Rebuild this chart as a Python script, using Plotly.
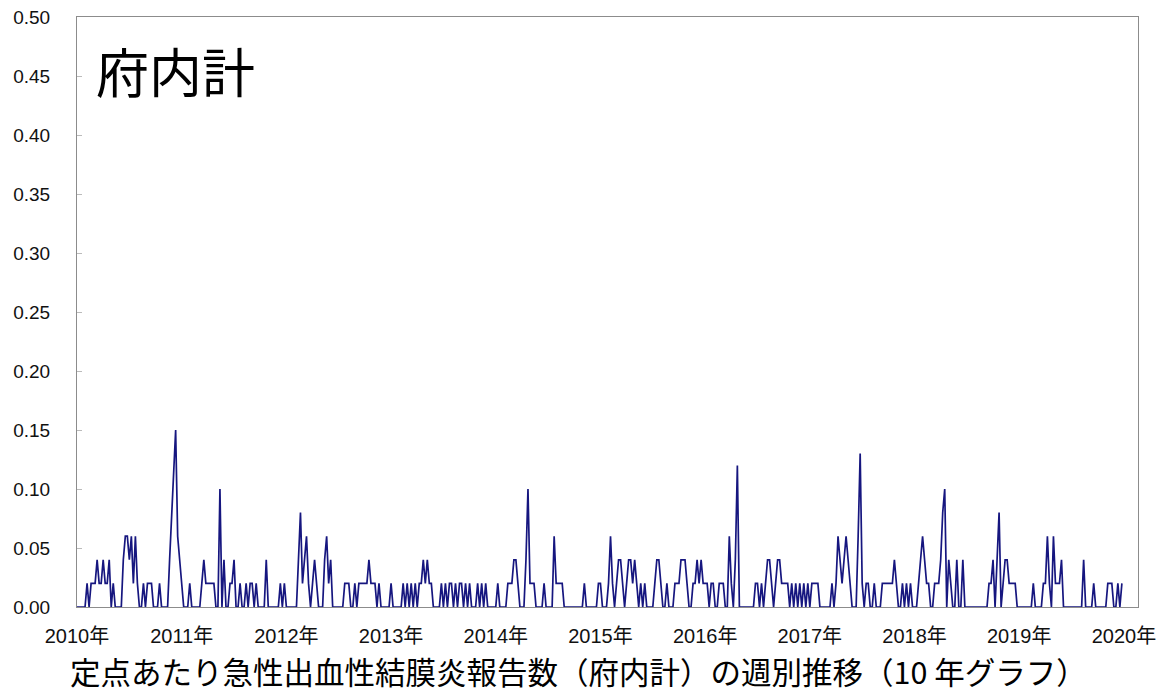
import numpy as np
import plotly.graph_objects as go

# Weekly values per sentinel (52 weeks per year)
y2010 = [0,0,0,0,0,.02,0,.02,.02,.02,.04,.02,.02,.04,.02,.02,.04,0,.02,0,
         0,0,0,.04,.06,.06,.04,.06,.02,.06,.02,0,0,.02,0,.02,.02,.02,0,0,
         0,.02,0,0,0,0,.04,.08,.12,.15,.06,.04]
y2011 = [.02,0,0,0,.02,0,0,0,0,0,.02,.04,.02,.02,.02,.02,.02,0,0,.10,
         0,.04,0,0,.02,.02,.04,0,0,.02,0,0,.02,0,.02,.02,0,.02,0,0,
         0,0,.04,0,0,0,0,0,0,.02,0,.02]
y2012 = [0,0,0,0,0,0,.04,.08,.02,.04,.06,.02,0,.02,.04,.02,0,0,0,.04,
         .06,.02,.04,0,0,0,0,0,0,.02,.02,.02,0,0,.02,0,.02,.02,.02,.02,
         .02,.04,.02,.02,.02,0,.02,0,0,0,0,0]
y2013 = [.02,0,0,0,0,0,.02,0,.02,0,.02,0,.02,0,.02,.02,.04,.02,.04,.02,
         .02,0,0,0,0,.02,0,.02,0,.02,.02,0,.02,0,.02,.02,0,.02,0,.02,
         0,0,0,.02,0,.02,0,.02,0,0,0,0]
y2014 = [0,.02,0,0,0,0,.02,.02,.02,.04,.04,.02,0,0,0,.04,.10,.02,.02,.02,
         0,0,0,0,.02,0,0,0,0,.06,.02,.02,.02,.02,0,0,0,0,0,0,
         0,0,0,0,.02,0,0,0,0,0,0,.02]
y2015 = [.02,0,0,0,.02,.06,.02,0,.02,.04,.04,.02,0,.02,.04,.04,.02,.04,.02,0,
         .02,0,.02,0,0,0,0,.02,.04,.04,.02,0,0,.02,0,0,0,.02,.02,.02,
         .04,.04,.04,.02,0,0,.02,.02,.04,.02,.04,.02]
y2016 = [.02,.02,0,.02,.02,0,0,.02,.02,.02,0,0,.06,.02,0,.04,.12,0,0,0,
         0,0,0,0,0,.02,.02,0,.02,0,.02,.04,.04,.02,0,.02,.04,.04,.02,.02,
         .02,.02,0,.02,0,.02,0,.02,0,.02,0,.02]
y2017 = [0,.02,.02,.02,.02,0,0,0,0,0,0,.02,0,.02,.06,.04,.02,.04,.06,.04,
         .02,0,0,0,.06,.13,.02,0,.02,.02,0,0,.02,0,0,0,.02,.02,.02,.02,
         .02,.02,.04,.02,0,0,.02,0,.02,0,.02,0]
y2018 = [0,0,.02,.04,.06,.04,.02,.02,0,0,.02,.02,.02,.04,.08,.10,0,.04,.02,0,
         0,.04,0,0,.04,0,0,0,0,0,0,0,0,0,0,0,0,.02,.02,.04,
         0,.04,.08,0,.02,.04,.04,.02,.02,.02,.02,0]
y2019 = [0,0,0,0,0,0,0,.02,0,0,0,0,.02,.02,.06,.02,0,.06,.02,.02,
         .02,.04,0,0,0,0,0,0,0,0,0,0,.04,0,0,0,0,.02,0,0,
         0,0,0,0,.02,.02,.02,0,0,.02,0,.02]

years = ["2010年", "2011年", "2012年", "2013年", "2014年", "2015年",
         "2016年", "2017年", "2018年", "2019年", "2020年"]
y_ticks = [0.00, 0.05, 0.10, 0.15, 0.20, 0.25, 0.30, 0.35, 0.40, 0.45, 0.50]

panel_title = "府内計"
caption = "定点あたり急性出血性結膜炎報告数（府内計）の週別推移（10 年グラフ）"

values = y2010 + y2011 + y2012 + y2013 + y2014 + y2015 + y2016 + y2017 + y2018 + y2019
weeks_per_year = 52
x = np.arange(len(values))

fig = go.Figure()
fig.add_trace(go.Scatter(
    x=x, y=values, mode="lines",
    line=dict(color="#16167f", width=1.7),
    hoverinfo="skip", showlegend=False,
))

fig.update_layout(
    width=1166, height=693,
    margin=dict(l=77, r=28, t=17, b=86),
    paper_bgcolor="white", plot_bgcolor="white",
    font=dict(family="Liberation Sans, Noto Sans CJK JP", color="#111111"),
)

fig.update_xaxes(
    range=[0, 527],
    tickmode="array",
    tickvals=[i * weeks_per_year for i in range(len(years))],
    ticktext=years,
    ticks="", showgrid=False, zeroline=False,
    showline=True, linecolor="#8c8c8c", linewidth=1, mirror=True,
    tickfont=dict(size=20, family="Liberation Sans, Noto Sans CJK JP", color="#111111"),
    ticklabelstandoff=11, automargin=False,
)
fig.update_yaxes(
    range=[0, 0.5],
    tickmode="array",
    tickvals=y_ticks,
    ticktext=[f"{v:.2f}" for v in y_ticks],
    ticks="inside", ticklen=5, tickcolor="#bbbbbb",
    showgrid=False, zeroline=False,
    showline=True, linecolor="#8c8c8c", linewidth=1, mirror=True,
    tickfont=dict(size=19, family="Liberation Sans", color="#111111"),
    ticklabelstandoff=22, automargin=False,
)

fig.add_annotation(
    text=panel_title, xref="paper", yref="paper",
    x=0.016, y=0.91, xanchor="left", yanchor="middle",
    showarrow=False,
    font=dict(size=53, family="Noto Sans CJK JP", color="#000000"),
)
fig.add_annotation(
    text=caption, xref="paper", yref="paper",
    x=0.473, y=-0.108, xanchor="center", yanchor="middle",
    showarrow=False,
    font=dict(size=30.5, family="Noto Sans CJK JP", color="#000000"),
)

fig.write_html(
    "out.html",
    config={"displayModeBar": False},
    post_script="document.body.style.margin='0';document.body.style.padding='0';",
)
